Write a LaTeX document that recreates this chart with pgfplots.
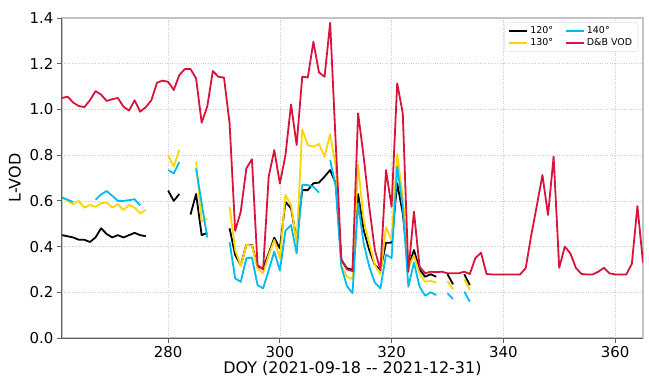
\documentclass[border=0pt]{standalone}
\usepackage{fontspec}
\setmainfont{DejaVu Sans}
\usepackage{pgfplots}
\usepackage{pgfplotstable}
\pgfplotsset{compat=1.18}

\definecolor{cOneTwenty}{HTML}{000000}
\definecolor{cOneThirty}{HTML}{FFD500}
\definecolor{cOneForty}{HTML}{00BBF0}
\definecolor{cDB}{HTML}{D8143C}
\definecolor{frameDark}{HTML}{606060}
\definecolor{frameLight}{HTML}{C4C4C4}

% L-VOD per day of year; nan marks days without a retrieval
\pgfplotstableread{
doy  a120   a130   a140   db
261  0.450  0.615  0.615  1.050
262  0.445  0.600  0.605  1.056
263  0.440  0.585  0.595  1.030
264  0.430  0.600  nan    1.015
265  0.430  0.570  nan    1.010
266  0.420  0.582  nan    1.040
267  0.440  0.574  0.605  1.080
268  0.480  0.590  0.628  1.065
269  0.455  0.593  0.643  1.037
270  0.440  0.570  0.622  1.045
271  0.450  0.585  0.600  1.050
272  0.440  0.560  0.600  1.012
273  0.450  0.582  0.603  0.995
274  0.460  0.570  0.607  1.040
275  0.450  0.545  0.580  0.990
276  0.445  0.560  nan    1.010
277  nan    nan    nan    1.040
278  nan    nan    nan    1.117
279  nan    nan    nan    1.126
280  0.645  0.800  0.735  1.121
281  0.600  0.750  0.720  1.085
282  0.630  0.822  0.770  1.150
283  nan    nan    nan    1.177
284  0.540  nan    nan    1.177
285  0.630  0.770  0.742  1.136
286  0.450  0.510  0.590  0.942
287  0.460  0.522  0.440  1.012
288  nan    nan    nan    1.168
289  nan    nan    nan    1.143
290  nan    nan    nan    1.139
291  0.480  0.574  0.420  0.939
292  0.363  0.385  0.261  0.469
293  0.319  0.315  0.246  0.553
294  0.407  0.407  0.349  0.742
295  0.407  0.405  0.352  0.782
296  0.312  0.305  0.232  0.319
297  0.305  0.283  0.217  0.300
298  0.370  0.363  0.297  0.706
299  0.439  0.429  0.378  0.822
300  0.392  0.349  0.295  0.676
301  0.596  0.626  0.470  0.800
302  0.567  0.582  0.494  1.022
303  0.429  0.414  0.370  0.844
304  0.647  0.913  0.669  1.143
305  0.647  0.844  0.669  1.140
306  0.677  0.837  0.662  1.296
307  0.680  0.849  0.636  1.162
308  0.706  0.793  nan    1.143
309  0.735  0.892  0.779  1.379
310  0.677  0.749  0.662  0.850
311  0.341  0.319  0.312  0.345
312  0.305  0.268  0.227  0.300
313  0.298  0.257  0.196  0.293
314  0.630  0.757  0.590  0.983
315  0.472  0.516  0.414  0.793
316  0.385  0.414  0.312  0.574
317  0.319  0.319  0.242  0.385
318  0.298  0.279  0.217  0.297
319  0.417  0.484  0.365  0.735
320  0.417  0.429  0.350  0.574
321  0.677  0.805  0.749  1.114
322  0.545  0.618  0.574  0.983
323  0.312  0.310  0.225  0.290
324  0.385  0.360  0.330  0.553
325  0.300  0.283  0.225  0.312
326  0.268  0.246  0.185  0.283
327  0.279  0.250  0.200  0.290
328  0.268  0.242  0.188  0.288
329  nan    nan    nan    0.290
330  0.279  0.249  0.195  0.283
331  0.235  0.213  0.171  0.283
332  nan    nan    nan    0.283
333  0.279  0.257  0.203  0.290
334  0.232  0.210  0.159  0.280
335  nan    nan    nan    0.350
336  nan    nan    nan    0.373
337  nan    nan    nan    0.280
338  nan    nan    nan    0.278
339  nan    nan    nan    0.278
340  nan    nan    nan    0.278
341  nan    nan    nan    0.278
342  nan    nan    nan    0.278
343  nan    nan    nan    0.278
344  nan    nan    nan    0.306
345  nan    nan    nan    0.450
346  nan    nan    nan    0.580
347  nan    nan    nan    0.713
348  nan    nan    nan    0.538
349  nan    nan    nan    0.793
350  nan    nan    nan    0.307
351  nan    nan    nan    0.400
352  nan    nan    nan    0.370
353  nan    nan    nan    0.306
354  nan    nan    nan    0.280
355  nan    nan    nan    0.278
356  nan    nan    nan    0.278
357  nan    nan    nan    0.290
358  nan    nan    nan    0.307
359  nan    nan    nan    0.283
360  nan    nan    nan    0.278
361  nan    nan    nan    0.278
362  nan    nan    nan    0.278
363  nan    nan    nan    0.324
364  nan    nan    nan    0.577
365  nan    nan    nan    0.330
}\vod

\begin{document}
\begin{tikzpicture}
\begin{axis}[
  scale only axis,
  width=581bp, height=320bp,
  xmin=261, xmax=365,
  ymin=0, ymax=1.4,
  xtick={280,300,...,360},
  ytick={0,0.2,...,1.41},
  /pgf/number format/assume math mode=true,
  yticklabel style={/pgf/number format/.cd, fixed, fixed zerofill, precision=1},
  xticklabel style={/pgf/number format/.cd, fixed, precision=0, 1000 sep={}},
  ticklabel style={font=\fontsize{15}{17}\selectfont, text=black},
  tick align=outside,
  xtick pos=bottom, ytick pos=left,
  major tick length=5bp,
  tick style={frameDark, line width=0.9bp},
  axis line style={frameLight, line width=1.3bp},
  grid=major,
  major grid style={gray!40, dotted, line width=0.6bp},
  xlabel={DOY (2021{-}09{-}18 {-}{-} 2021{-}12{-}31)},
  ylabel={L-VOD},
  label style={font=\fontsize{16}{19}\selectfont},
  xlabel style={at={(axis description cs:0.5,-0.094)}, anchor=center},
  ylabel style={at={(axis description cs:-0.081,0.5)}, anchor=center},
  unbounded coords=jump,
  every axis plot/.append style={line width=1.8bp, line join=round},
  legend columns=2,
  transpose legend,
  legend cell align=left,
  legend style={at={(rel axis cs:0.992,0.987)}, anchor=north east,
    draw=gray!25, rounded corners=2bp, fill=white,
    font=\fontsize{9.5}{11}\selectfont,
    inner xsep=4bp, inner ysep=2bp,
    /tikz/every even column/.append style={column sep=10bp}},
  legend image code/.code={\draw[#1, line width=1.8bp] (0bp,0bp) -- (18bp,0bp);},
  after end axis/.code={
    \draw[frameDark, line width=1bp] (rel axis cs:0,1) -- (rel axis cs:0,0) -- (rel axis cs:1,0);
  },
]
\addplot[cOneTwenty] table[x=doy, y=a120] {\vod};
\addlegendentry{120°}
\addplot[cOneThirty] table[x=doy, y=a130] {\vod};
\addlegendentry{130°}
\addplot[cOneForty] table[x=doy, y=a140] {\vod};
\addlegendentry{140°}
\addplot[cDB] table[x=doy, y=db] {\vod};
\addlegendentry{D\&B VOD}
\end{axis}
\path ([xshift=-62bp,yshift=-40bp]current axis.south west) rectangle ([xshift=6bp,yshift=18bp]current axis.north east);
\end{tikzpicture}
\end{document}
